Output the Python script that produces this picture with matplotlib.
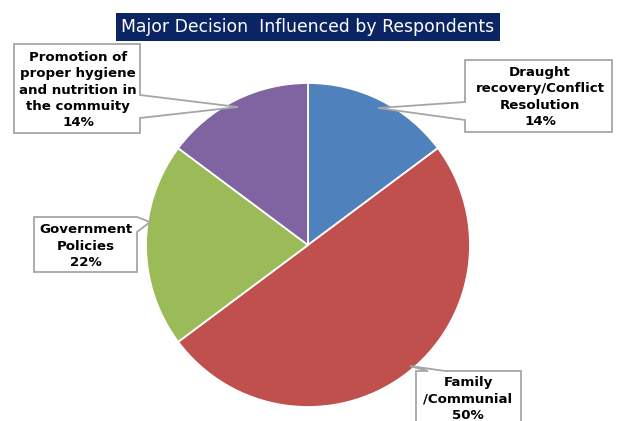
import matplotlib

matplotlib.use("Agg")
import matplotlib.pyplot as plt
from matplotlib.patches import Polygon, Rectangle

W, H = 619, 421

# slice shares (clockwise from 12 o'clock)
categories = [
    "Draught\nrecovery/Conflict\nResolution",
    "Family\n/Communial",
    "Government\nPolicies",
    "Promotion of\nproper hygiene\nand nutrition in\nthe commuity",
]
values = [14.8, 50.0, 20.4, 14.8]
pct_labels = ["14%", "50%", "22%", "14%"]
colors = ["#4F81BD", "#C0504D", "#9BBB59", "#8064A2"]


def py(y):
    # pixel y (top-down) -> data y
    return H - y


def callout(ax, pts, text, tx, ty):
    poly = Polygon(
        [(x, py(y)) for x, y in pts],
        closed=True,
        facecolor="white",
        edgecolor="#A6A6A6",
        linewidth=1.3,
        zorder=3,
    )
    ax.add_patch(poly)
    ax.text(
        tx,
        py(ty),
        text,
        ha="center",
        va="center",
        fontsize=9.6,
        fontweight="bold",
        color="black",
        linespacing=1.32,
        zorder=4,
    )


def draw():
    fig = plt.figure(figsize=(W / 100, H / 100), dpi=100)
    ax = fig.add_axes([0, 0, 1, 1])

    ax.pie(
        values,
        colors=colors,
        startangle=90,
        counterclock=False,
        center=(308, py(245)),
        radius=162,
        wedgeprops=dict(edgecolor="white", linewidth=1.3),
        frame=True,
    )
    ax.set_xlim(0, W)
    ax.set_ylim(0, H)
    ax.set_aspect("equal")
    ax.axis("off")

    # title
    ax.add_patch(
        Rectangle((116, py(41)), 384, 28, facecolor="#0B2463", edgecolor="none", zorder=3)
    )
    ax.text(
        308,
        py(27),
        "Major Decision  Influenced by Respondents",
        ha="center",
        va="center",
        fontsize=12.4,
        color="white",
        zorder=4,
    )

    lab = [c + "\n" + p for c, p in zip(categories, pct_labels)]

    # Promotion (top left)
    callout(
        ax,
        [(14, 44), (140, 44), (140, 95), (238, 107), (140, 118), (140, 133), (14, 133)],
        lab[3],
        78,
        90,
    )
    # Draught (top right)
    callout(
        ax,
        [(465, 60), (612, 60), (612, 132), (465, 132), (465, 120), (378, 108), (465, 102)],
        lab[0],
        540,
        97,
    )
    # Government (left)
    callout(
        ax,
        [(34, 217), (137, 217), (150, 222), (137, 232), (137, 272), (34, 272)],
        lab[2],
        86,
        246,
    )
    # Family (bottom right)
    callout(
        ax,
        [(416, 371), (428, 371), (410, 366), (445, 371), (521, 371), (521, 430), (416, 430), (416, 376)],
        lab[1],
        468,
        399,
    )

    fig.savefig("out.png", dpi=100)


if __name__ == "__main__":
    draw()
